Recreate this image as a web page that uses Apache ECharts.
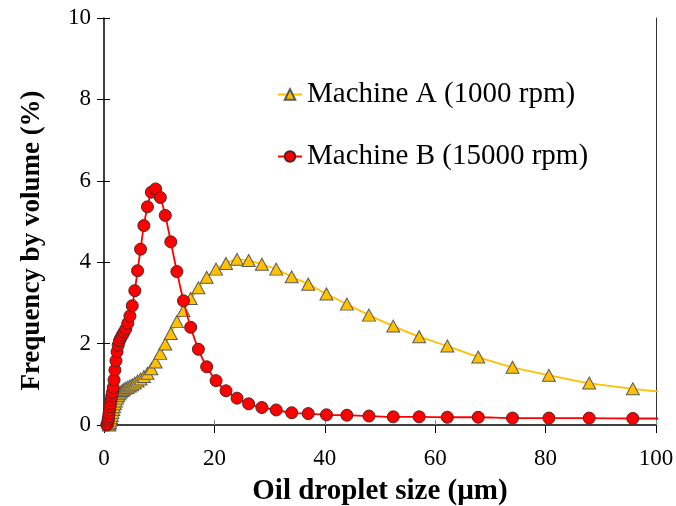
<!DOCTYPE html>
<html>
<head>
<meta charset="utf-8">
<script src="https://cdn.jsdelivr.net/npm/echarts@6/dist/echarts.min.js"></script>
<style>
html,body{margin:0;padding:0;background:#fff;}
#chart{width:676px;height:506px;}
</style>
</head>
<body>
<div id="chart"></div>
<script>
// Machine A (1000 rpm)
var sizesA = [0.91,0.99,1.08,1.18,1.29,1.41,1.53,1.67,1.82,1.98,2.16,2.36,2.57,2.80,3.05,3.33,3.62,3.95,4.31,4.69,5.12,5.58,6.08,6.62,7.22,7.87,8.58,9.35,10.2,11.1,12.1,13.2,14.4,15.7,17.1,18.6,20.3,22.1,24.1,26.2,28.6,31.2,34.0,37.0,40.3,44.0,48.0,52.4,57.1,62.2,67.8,74.0,80.6,87.9,95.8,104.5];
var valuesA = [0.00,0.03,0.07,0.12,0.18,0.24,0.31,0.38,0.45,0.52,0.59,0.66,0.72,0.77,0.81,0.85,0.88,0.91,0.93,0.96,0.99,1.03,1.08,1.13,1.19,1.27,1.38,1.55,1.76,1.99,2.25,2.54,2.81,3.11,3.37,3.63,3.83,3.97,4.07,4.04,3.95,3.83,3.64,3.46,3.22,2.97,2.70,2.43,2.17,1.94,1.67,1.42,1.22,1.03,0.89,0.77];
// Machine B (15000 rpm)
var sizesB = [0.50,0.60,0.70,0.77,0.84,0.91,0.99,1.08,1.18,1.29,1.41,1.53,1.67,1.82,1.98,2.16,2.36,2.57,2.80,3.05,3.33,3.62,3.95,4.31,4.69,5.12,5.58,6.08,6.62,7.22,7.87,8.58,9.35,10.2,11.1,12.1,13.2,14.4,15.7,17.1,18.6,20.3,22.1,24.1,26.2,28.6,31.2,34.0,37.0,40.3,44.0,48.0,52.4,57.1,62.2,67.8,74.0,80.6,87.9,95.8,104.5];
var valuesB = [0.00,0.02,0.08,0.14,0.20,0.28,0.37,0.45,0.53,0.62,0.71,0.80,0.92,1.11,1.35,1.58,1.80,1.96,2.07,2.14,2.21,2.28,2.36,2.50,2.68,2.93,3.30,3.79,4.32,4.90,5.36,5.72,5.80,5.59,5.15,4.50,3.77,3.05,2.40,1.86,1.43,1.09,0.84,0.66,0.52,0.43,0.37,0.30,0.28,0.25,0.24,0.22,0.20,0.20,0.19,0.19,0.17,0.17,0.17,0.16,0.16];
var xTicks = [0,20,40,60,80,100];
var yTicks = [0,2,4,6,8,10];

function pairs(xs, ys){ return xs.map(function(x,i){ return [x, ys[i]]; }); }

var serif = 'Liberation Serif';
var chart = echarts.init(document.getElementById('chart'));
var xBase = {type:'value', min:xTicks[0], max:xTicks[xTicks.length-1], interval:20, gridIndex:0, splitLine:{show:false}};
var yBase = {type:'value', min:yTicks[0], max:yTicks[yTicks.length-1], interval:2, gridIndex:0, splitLine:{show:false}};
chart.setOption({
  animation:false,
  backgroundColor:'#fff',
  grid:{left:104, right:20, top:18, bottom:81, containLabel:false, outerBoundsMode:'none'},
  legend:{
    orient:'vertical', left:272, top:75, itemGap:33, itemWidth:24, itemHeight:13,
    textStyle:{fontFamily:serif, fontSize:29, color:'#000'},
    data:['Machine A (1000 rpm)','Machine B (15000 rpm)']
  },
  xAxis:[
    Object.assign({}, xBase, {
      name:'Oil droplet size (µm)', nameLocation:'middle', nameGap:52,
      nameTextStyle:{fontFamily:serif, fontSize:29, fontWeight:'bold', color:'#000'},
      axisLine:{show:true, lineStyle:{color:'#000', width:1.5}},
      axisTick:{show:true, inside:false, length:8, lineStyle:{color:'#000', width:1}},
      axisLabel:{fontFamily:serif, fontSize:23, color:'#000', margin:22}
    }),
    Object.assign({}, xBase, {
      position:'bottom',
      axisLine:{show:false},
      axisTick:{show:true, inside:true, length:5, lineStyle:{color:'#888', width:1}},
      axisLabel:{show:false}
    })
  ],
  yAxis:[
    Object.assign({}, yBase, {
      name:'Frequency by volume (%)', nameLocation:'middle', nameGap:58,
      nameTextStyle:{fontFamily:serif, fontSize:27, fontWeight:'bold', color:'#000', padding:[0,0,0,-38]},
      axisLine:{show:true, lineStyle:{color:'#000', width:1.5}},
      axisTick:{show:true, inside:false, length:7, lineStyle:{color:'#000', width:1}},
      axisLabel:{fontFamily:serif, fontSize:23, color:'#000', margin:13}
    }),
    Object.assign({}, yBase, {
      position:'left',
      axisLine:{show:false},
      axisTick:{show:true, inside:true, length:6, lineStyle:{color:'#000', width:1}},
      axisLabel:{show:false}
    }),
    Object.assign({}, yBase, {
      position:'right',
      axisLine:{show:true, lineStyle:{color:'#333', width:1}},
      axisTick:{show:false},
      axisLabel:{show:false}
    })
  ],
  series:[
    {
      name:'Machine A (1000 rpm)', type:'line', xAxisIndex:0, yAxisIndex:0,
      data:pairs(sizesA, valuesA), smooth:0.3, clip:true,
      symbol:'triangle', symbolSize:[13,12],
      lineStyle:{color:'#FFC000', width:1.8},
      itemStyle:{color:'#FFC000', borderColor:'#5a5a5a', borderWidth:1},
      z:2
    },
    {
      name:'Machine B (15000 rpm)', type:'line', xAxisIndex:0, yAxisIndex:0,
      data:pairs(sizesB, valuesB), smooth:0.3, clip:true,
      symbol:'circle', symbolSize:12,
      lineStyle:{color:'#FF0000', width:1.8},
      itemStyle:{color:'#FF0000', borderColor:'#5a2020', borderWidth:1},
      z:3
    }
  ]
});
</script>
</body>
</html>
